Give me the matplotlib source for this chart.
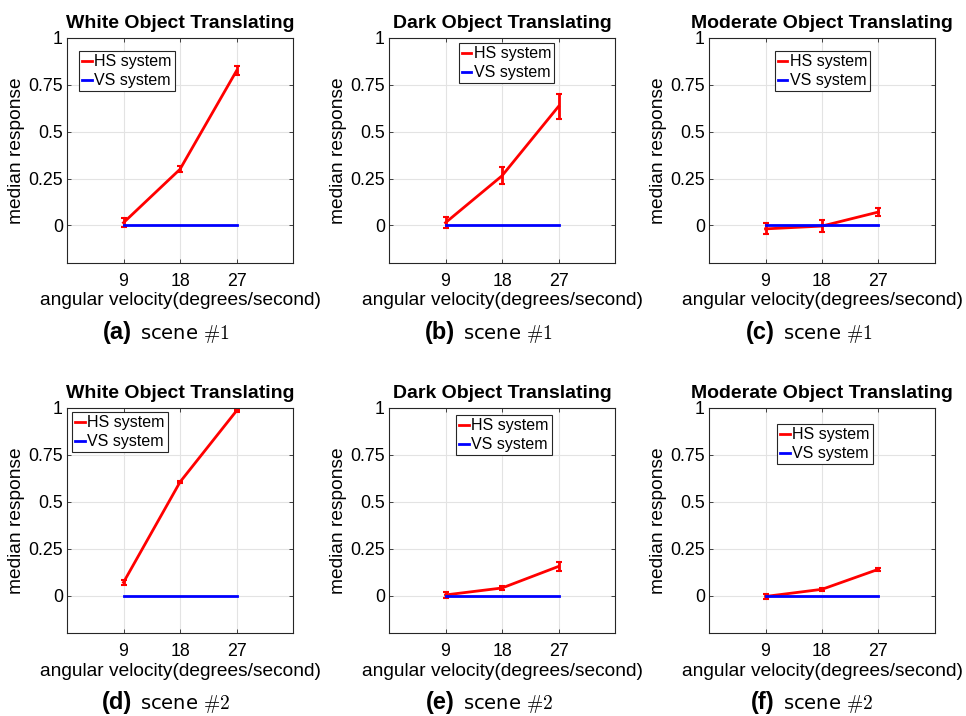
import matplotlib
matplotlib.use('Agg')
import matplotlib.pyplot as plt

plt.rcParams['font.family'] = ['Liberation Sans', 'DejaVu Sans']
plt.rcParams['mathtext.fontset'] = 'cm'

# Data
velocities = [9, 18, 27]
xtick_labels = ['9', '18', '27']
yticks = [0, 0.25, 0.5, 0.75, 1]
ytick_labels = ['0', '0.25', '0.5', '0.75', '1']

titles = ['White Object Translating', 'Dark Object Translating', 'Moderate Object Translating',
          'White Object Translating', 'Dark Object Translating', 'Moderate Object Translating']
panel_tags = ['(a)', '(b)', '(c)', '(d)', '(e)', '(f)']
scene_tags = [r'scene $\#1$', r'scene $\#1$', r'scene $\#1$',
              r'scene $\#2$', r'scene $\#2$', r'scene $\#2$']

hs_a = [0.015, 0.30, 0.825]
hs_a_err = [0.025, 0.015, 0.025]
hs_b = [0.015, 0.265, 0.635]
hs_b_err = [0.03, 0.045, 0.065]
hs_c = [-0.018, -0.003, 0.072]
hs_c_err = [0.03, 0.03, 0.022]
hs_d = [0.07, 0.605, 0.985]
hs_d_err = [0.012, 0.006, 0.006]
hs_e = [0.003, 0.04, 0.155]
hs_e_err = [0.015, 0.012, 0.022]
hs_f = [-0.005, 0.033, 0.14]
hs_f_err = [0.012, 0.008, 0.008]
vs_all = [0, 0, 0]

hs_values = [hs_a, hs_b, hs_c, hs_d, hs_e, hs_f]
hs_errors = [hs_a_err, hs_b_err, hs_c_err, hs_d_err, hs_e_err, hs_f_err]

# layout (pixels in a 966x716 figure)
W, H = 966, 716
col_left = [67, 389, 709]
row_top = [38, 408]
ax_w, ax_h = 226, 225
legend_anchor = [(0.053, 0.942), (0.308, 0.978), (0.29, 0.942),
                 (0.022, 0.982), (0.296, 0.969), (0.30, 0.929)]
tag_end = [132, 455, 775]
tag_base = [339, 709]

fig = plt.figure(figsize=(W / 100, H / 100), dpi=100)

for i in range(6):
    r, c = divmod(i, 3)
    ax = fig.add_axes([col_left[c] / W, 1 - (row_top[r] + ax_h) / H, ax_w / W, ax_h / H])

    ax.errorbar(velocities, hs_values[i], yerr=hs_errors[i], fmt='none', ecolor='red',
                elinewidth=2, capsize=2, capthick=1.5)
    hs_line, = ax.plot(velocities, hs_values[i], color='red', lw=2, label='HS system')
    vs_line, = ax.plot(velocities, vs_all, color='blue', lw=2, label='VS system')

    ax.set_xlim(0, 36)
    ax.set_ylim(-0.2, 1)
    ax.set_xticks(velocities)
    ax.set_xticklabels(xtick_labels)
    ax.set_yticks(yticks)
    ax.set_yticklabels(ytick_labels)
    ax.tick_params(direction='in', length=3, width=0.6, labelsize=12.8,
                   top=True, right=True, color='#262626')
    ax.tick_params(axis='x', pad=7)
    ax.tick_params(axis='y', pad=3)
    ax.grid(True, color='#e3e3e3', lw=0.8)
    ax.set_axisbelow(True)
    for s in ax.spines.values():
        s.set_color('#262626')
        s.set_linewidth(0.8)

    ax.set_title(titles[i], fontsize=14, fontweight='bold', pad=7)
    ax.set_ylabel('median response', fontsize=13.75, labelpad=2)
    ax.set_xlabel('angular velocity(degrees/second)', fontsize=13.75, labelpad=2)

    leg = ax.legend(handles=[hs_line, vs_line], loc='upper left',
                    bbox_to_anchor=legend_anchor[i], borderaxespad=0,
                    fontsize=11.5, handlelength=0.6, handletextpad=0.15, borderpad=0.2,
                    labelspacing=0.25, fancybox=False, framealpha=1)
    leg.get_frame().set_edgecolor('#262626')
    leg.get_frame().set_linewidth(0.8)

    fig.text(tag_end[c] / W, 1 - tag_base[r] / H, panel_tags[i], ha='right',
             va='baseline', fontsize=17, fontweight='bold')
    fig.text((tag_end[c] + 8) / W, 1 - tag_base[r] / H, scene_tags[i], ha='left',
             va='baseline', fontsize=14, family='DejaVu Sans')

fig.savefig('out.png', dpi=100)
